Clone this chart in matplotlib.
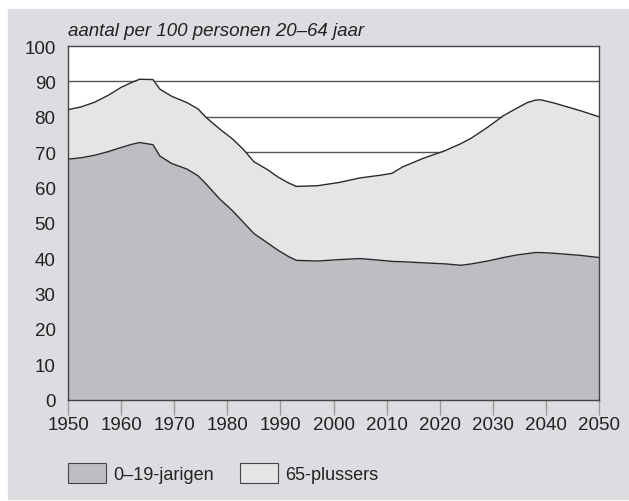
import matplotlib
matplotlib.use("Agg")
import matplotlib.pyplot as plt
from matplotlib.patches import Rectangle, Patch

plt.rcParams['font.family'] = ['Liberation Sans', 'DejaVu Sans']

# jaartallen en waarden (aantal per 100 personen 20-64 jaar)
years = [1950, 1952.5, 1955, 1957.5, 1960, 1962, 1963.5, 1966, 1967.3, 1969.5,
         1972.4, 1974.5, 1976, 1978.6, 1981, 1983, 1985, 1987.5, 1989.5, 1991.5,
         1993, 1997, 2001, 2005, 2009, 2011, 2013, 2017, 2021, 2024,
         2026, 2029, 2032, 2034.5, 2036.5, 2038, 2039, 2041.5, 2046.5, 2050]
# 0-19-jarigen (onderste laag)
young = [68.0, 68.4, 69.1, 70.1, 71.3, 72.2, 72.7, 72.1, 68.9, 66.8,
         65.2, 63.3, 61.0, 56.7, 53.4, 50.2, 47.0, 44.4, 42.3, 40.5,
         39.4, 39.2, 39.6, 39.9, 39.4, 39.1, 39.0, 38.7, 38.4, 38.0,
         38.4, 39.2, 40.2, 40.9, 41.3, 41.6, 41.6, 41.4, 40.8, 40.2]
# totaal 0-19 + 65-plussers (bovenkant)
total = [82.0, 82.8, 84.1, 86.0, 88.3, 89.7, 90.6, 90.5, 87.8, 85.8,
         84.0, 82.2, 79.8, 76.5, 73.7, 70.8, 67.3, 65.1, 63.0, 61.3,
         60.3, 60.5, 61.4, 62.7, 63.5, 64.0, 65.8, 68.3, 70.4, 72.4,
         74.0, 77.0, 80.3, 82.4, 84.0, 84.7, 84.8, 83.9, 81.7, 80.0]

xticks = list(range(1950, 2051, 10))
yticks = list(range(0, 101, 10))
labels = ['0–19-jarigen', '65-plussers']

c_panel = '#dcdde0'
c_young = '#bdbec2'
c_old = '#e4e5e7'
c_line = '#2a2a2a'
c_text = '#222222'

W, H = 629, 502
fig = plt.figure(figsize=(W / 100, H / 100), dpi=100, facecolor='white')
fig.patches.append(Rectangle((8 / W, 2 / H), 1 - 8 / W, (500 - 10) / H,
                             transform=fig.transFigure, color=c_panel, zorder=-10))

ax = fig.add_axes([68 / W, 1 - 400.7 / H, (599 - 68) / W, (400.7 - 47) / H])
ax.set_facecolor('white')

for yv in yticks[1:-1]:
    ax.axhline(yv, color='#555555', lw=1.0, zorder=1)

ax.fill_between(years, 0, young, color=c_young, lw=0, zorder=2)
ax.fill_between(years, young, total, color=c_old, lw=0, zorder=2)
ax.plot(years, young, color=c_line, lw=1.0, zorder=3)
ax.plot(years, total, color=c_line, lw=1.0, zorder=3)

ax.set_xlim(1950, 2050)
ax.set_ylim(0, 100)
ax.set_xticks(xticks)
ax.set_yticks(yticks)
ax.tick_params(axis='x', direction='out', length=11, width=1, color='#9a9a9a',
               labelsize=13.5, labelcolor=c_text, pad=1)
ax.tick_params(axis='y', direction='out', length=0, labelsize=13.5,
               labelcolor=c_text, pad=9)
for s in ax.spines.values():
    s.set_color('#444444')
    s.set_linewidth(1.0)
    s.set_zorder(4)

fig.text(68 / W, 1 - 32 / H, 'aantal per 100 personen 20–64 jaar', style='italic',
         fontsize=13.5, color=c_text, va='center', ha='left')

handles = [Patch(facecolor=c_young, edgecolor='#444444', lw=0.8),
           Patch(facecolor=c_old, edgecolor='#444444', lw=0.8)]
fig.legend(handles, labels, loc='center left', bbox_to_anchor=(68 / W, 1 - 474 / H),
           ncol=2, frameon=False, fontsize=13, handlelength=2.1, handleheight=1.3,
           handletextpad=0.4, columnspacing=1.45, borderpad=0, borderaxespad=0,
           labelcolor=c_text)

fig.savefig('out.png', dpi=100, facecolor='white')
